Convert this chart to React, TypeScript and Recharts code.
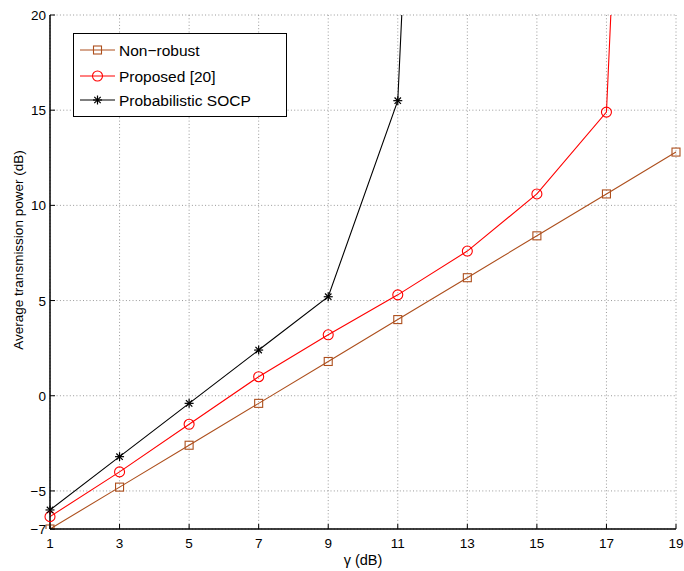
import React from 'react'
import { LineChart, Line, XAxis, YAxis, CartesianGrid, Legend } from 'recharts'

// SINR target (dB) on the x axis
const gammaDb = [1, 3, 5, 7, 9, 11, 13, 15, 17, 19]
// average transmission power (dB) per scheme; values past 20 run off the top of the plot
const nonRobust = [-7.0, -4.8, -2.6, -0.4, 1.8, 4.0, 6.2, 8.4, 10.6, 12.8]
const proposed = [-6.35, -4.0, -1.5, 1.0, 3.2, 5.3, 7.6, 10.6, 14.9, 96]
const probSocp = [-6.0, -3.2, -0.4, 2.4, 5.2, 15.5, 94, null, null, null]

const xTicks = [1, 3, 5, 7, 9, 11, 13, 15, 17, 19]
const yTicks = [-7, -5, 0, 5, 10, 15, 20]
const Y_MIN = -7
const Y_MAX = 20

const FONT = '"Liberation Sans", Arial, Helvetica, sans-serif'

type MarkerKind = 'square' | 'circle' | 'star'

const series: { key: string; name: string; color: string; marker: MarkerKind }[] = [
  { key: 'nonRobust', name: 'Non\u2212robust', color: '#ad4f1d', marker: 'square' },
  { key: 'proposed', name: 'Proposed [20]', color: '#ff0000', marker: 'circle' },
  { key: 'probSocp', name: 'Probabilistic SOCP', color: '#000000', marker: 'star' },
]

const data = gammaDb.map((g, i) => ({
  gamma: g,
  nonRobust: nonRobust[i],
  proposed: proposed[i],
  probSocp: probSocp[i],
}))

const fmt = (v: number) => (v < 0 ? `\u2212${-v}` : `${v}`)

function Marker({ kind, cx, cy, color }: { kind: MarkerKind; cx: number; cy: number; color: string }) {
  if (kind === 'square') {
    return <rect x={cx - 4} y={cy - 4} width={8} height={8} fill="none" stroke={color} strokeWidth={1.1} />
  }
  if (kind === 'circle') {
    return <circle cx={cx} cy={cy} r={5} fill="none" stroke={color} strokeWidth={1.1} />
  }
  const s = 4.5
  const d = 3.2
  return (
    <g stroke={color} strokeWidth={1.2}>
      <line x1={cx - s} y1={cy} x2={cx + s} y2={cy} />
      <line x1={cx} y1={cy - s} x2={cx} y2={cy + s} />
      <line x1={cx - d} y1={cy - d} x2={cx + d} y2={cy + d} />
      <line x1={cx - d} y1={cy + d} x2={cx + d} y2={cy - d} />
    </g>
  )
}

const makeDot = (kind: MarkerKind, color: string) => (props: any) => {
  const { cx, cy, value, index } = props
  if (value == null || value > Y_MAX || cx == null || cy == null) return <g key={index} />
  return (
    <g key={index}>
      <Marker kind={kind} cx={cx} cy={cy} color={color} />
    </g>
  )
}

// tick renderers: labels plus short inward tick marks
const BottomTick = (props: any) => {
  const { x, y, payload } = props
  return (
    <g>
      <line x1={x} y1={y} x2={x} y2={y - 5} stroke="#000" />
      <text x={x} y={y + 19} textAnchor="middle" fontSize={13.5} fontFamily={FONT} fill="#000">
        {fmt(payload.value)}
      </text>
    </g>
  )
}

const LeftTick = (props: any) => {
  const { x, y, payload } = props
  return (
    <g>
      <line x1={x} y1={y} x2={x + 5} y2={y} stroke="#000" />
      <text x={x - 4} y={y + 5} textAnchor="end" fontSize={13.5} fontFamily={FONT} fill="#000">
        {fmt(payload.value)}
      </text>
    </g>
  )
}

const TopTick = (props: any) => {
  const { x, y } = props
  return <line x1={x} y1={y} x2={x} y2={y + 5} stroke="#000" />
}

const RightTick = (props: any) => {
  const { x, y } = props
  return <line x1={x} y1={y} x2={x - 5} y2={y} stroke="#000" />
}

function LegendBox() {
  const rows = [17, 43, 67]
  return (
    <svg width={215} height={85} style={{ display: 'block' }}>
      <rect x={0.5} y={0.5} width={213} height={83} fill="#fff" stroke="#000" strokeWidth={1} />
      {series.map((s, i) => (
        <g key={s.key}>
          <line x1={7} y1={rows[i]} x2={42} y2={rows[i]} stroke={s.color} strokeWidth={1} />
          <Marker kind={s.marker} cx={24.5} cy={rows[i]} color={s.color} />
          <text x={46} y={rows[i] + 5.5} fontSize={15.5} fontFamily={FONT} fill="#000">
            {s.name}
          </text>
        </g>
      ))}
    </svg>
  )
}

export default function App() {
  return (
    <div style={{ position: 'absolute', left: 0, top: 0, background: '#fff' }}>
      <LineChart
        width={684}
        height={571}
        data={data}
        margin={{ top: 15, right: 8, bottom: 0, left: 0 }}
      >
        <CartesianGrid stroke="#999999" strokeDasharray="1 2.3" horizontalValues={yTicks} verticalValues={xTicks} />
        <XAxis
          dataKey="gamma"
          type="number"
          domain={[1, 19]}
          ticks={xTicks}
          height={42}
          tickSize={0}
          tickMargin={0}
          tickLine={false}
          tick={BottomTick}
          axisLine={{ stroke: '#000', strokeWidth: 1.5 }}
          interval={0}
          label={{
            content: ({ viewBox }: any) => (
              <text
                x={viewBox.x + viewBox.width / 2}
                y={viewBox.y + 36}
                textAnchor="middle"
                fontSize={14.5}
                fontFamily={FONT}
                fill="#000"
              >
                {'\u03b3 (dB)'}
              </text>
            ),
          }}
        />
        <XAxis
          xAxisId="top"
          orientation="top"
          type="number"
          domain={[1, 19]}
          ticks={xTicks}
          height={0}
          tickSize={0}
          tickMargin={0}
          tickLine={false}
          tick={TopTick}
          axisLine={{ stroke: '#000', strokeWidth: 1.5 }}
          interval={0}
        />
        <YAxis
          type="number"
          domain={[Y_MIN, Y_MAX]}
          ticks={yTicks}
          allowDataOverflow
          width={50}
          tickSize={0}
          tickMargin={0}
          tickLine={false}
          tick={LeftTick}
          axisLine={{ stroke: '#000', strokeWidth: 1.5 }}
          interval={0}
          label={{
            content: ({ viewBox }: any) => {
              const cx = viewBox.x + 23
              const cy = viewBox.y + viewBox.height / 2 - 22
              return (
                <text
                  x={cx}
                  y={cy}
                  transform={`rotate(-90 ${cx} ${cy})`}
                  textAnchor="middle"
                  fontSize={13.5}
                  fontFamily={FONT}
                  fill="#000"
                >
                  Average transmission power (dB)
                </text>
              )
            },
          }}
        />
        <YAxis
          yAxisId="right"
          orientation="right"
          type="number"
          domain={[Y_MIN, Y_MAX]}
          ticks={yTicks}
          allowDataOverflow
          width={0}
          tickSize={0}
          tickMargin={0}
          tickLine={false}
          tick={RightTick}
          axisLine={{ stroke: '#000', strokeWidth: 1.5 }}
          interval={0}
        />
        <Legend
          layout="vertical"
          align="center"
          verticalAlign="middle"
          wrapperStyle={{ left: 73, top: 33, width: 215, height: 85 }}
          content={() => <LegendBox />}
        />
        {series.map((s) => (
          <Line
            key={s.key}
            type="linear"
            dataKey={s.key}
            name={s.name}
            stroke={s.color}
            strokeWidth={1.1}
            dot={makeDot(s.marker, s.color)}
            activeDot={false}
            isAnimationActive={false}
          />
        ))}
      </LineChart>
    </div>
  )
}
